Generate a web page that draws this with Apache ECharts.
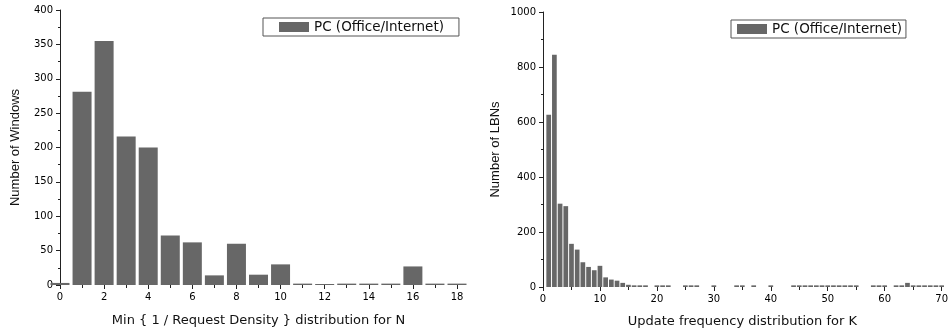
<!DOCTYPE html>
<html>
<head>
<meta charset="utf-8">
<script src="https://cdn.jsdelivr.net/npm/echarts@6/dist/echarts.min.js"></script>
<style>
html,body{margin:0;padding:0;background:#fff;}
#c{width:951px;height:335px;}
</style>
</head>
<body>
<div id="c"></div>
<script>
// ---- data ----
var seriesName = 'PC (Office/Internet)';
var leftX = [0,1,2,3,4,5,6,7,8,9,10,11,12,13,14,15,16,17,18];
var leftCounts = [3,281,355,216,200,72,62,14,60,15,30,2,1.5,2,2,2,27,2,2];
var leftXTicks = [0,2,4,6,8,10,12,14,16,18];
var leftYTicks = [0,50,100,150,200,250,300,350,400];

var rightX = [1,2,3,4,5,6,7,8,9,10,11,12,13,14,15,16,17,18,19,20,
              21,22,23,24,25,26,27,28,29,30,31,32,33,34,35,36,37,38,39,40,
              41,42,43,44,45,46,47,48,49,50,51,52,53,54,55,56,57,58,59,60,
              61,62,63,64,65,66,67,68,69,70];
var rightCounts = [626,845,303,294,157,136,90,73,61,77,35,27,23,15,8,6,6,6,0,6,
                   6,6,0,0,6,6,6,0,0,6,0,0,0,6,6,0,6,0,0,6,
                   0,0,0,6,6,6,6,6,6,6,6,6,6,6,6,0,0,6,6,6,
                   0,6,6,15,6,6,6,6,6,6];
var rightXTicks = [0,10,20,30,40,50,60,70];
var rightYTicks = [0,200,400,600,800,1000];

var leftTitleX = 'Min { 1 / Request Density } distribution for N';
var leftTitleY = 'Number of Windows';
var rightTitleX = 'Update frequency distribution for K';
var rightTitleY = 'Number of LBNs';

function pairs(xs, ys){ return xs.map(function(x,i){ return [x, ys[i]]; }); }

var H = 'DejaVu Sans';
var V = 'Liberation Sans';
var barColor = '#676767';
var axisColor = '#222';

function xAxisOf(gridIndex, ticks, name, gap){
  return {
    type:'value', gridIndex:gridIndex,
    min:ticks[0], max:ticks[ticks.length-1], interval:ticks[1]-ticks[0],
    axisLine:{show:false},
    axisTick:{show:true, inside:false, length:4, lineStyle:{color:axisColor, width:1}},
    minorTick:{show:true, splitNumber:2, length:3, lineStyle:{color:axisColor, width:1}},
    splitLine:{show:false}, minorSplitLine:{show:false},
    axisLabel:{fontFamily:H, fontSize:10, color:'#000', margin:7,
               formatter:function(v){ return String(v); }},
    name:name, nameLocation:'middle', nameGap:gap,
    nameTextStyle:{fontFamily:H, fontSize:13, color:'#111'}
  };
}
function yAxisOf(gridIndex, ticks, name, gap){
  return {
    type:'value', gridIndex:gridIndex,
    min:ticks[0], max:ticks[ticks.length-1], interval:ticks[1]-ticks[0],
    axisLine:{show:true, lineStyle:{color:axisColor, width:1}},
    axisTick:{show:true, inside:false, length:4, lineStyle:{color:axisColor, width:1}},
    minorTick:{show:true, splitNumber:2, length:2, lineStyle:{color:axisColor, width:1}},
    splitLine:{show:false}, minorSplitLine:{show:false},
    axisLabel:{fontFamily:H, fontSize:10, color:'#000', margin:7,
               formatter:function(v){ return String(v); }},
    name:name, nameLocation:'middle', nameGap:gap, nameRotate:90,
    nameTextStyle:{fontFamily:V, fontSize:13, color:'#111'}
  };
}
function legendOf(left, top, padding){
  return {
    data:[seriesName], left:left, top:top, orient:'horizontal',
    icon:'rect', itemWidth:30, itemHeight:10, itemGap:4,
    padding:padding, borderColor:'#555', borderWidth:1, backgroundColor:'#fff',
    textStyle:{fontFamily:H, fontSize:13.5, color:'#111'},
    selectedMode:false
  };
}

var chart = echarts.init(document.getElementById('c'), null, {renderer:'canvas'});
chart.setOption({
  backgroundColor:'#fff',
  animation:false,
  grid:[
    {left:60, top:10, width:397, height:275},
    {left:543, top:12, width:400, height:275}
  ],
  xAxis:[
    xAxisOf(0, leftXTicks, leftTitleX, 29),
    xAxisOf(1, rightXTicks, rightTitleX, 28)
  ],
  yAxis:[
    yAxisOf(0, leftYTicks, leftTitleY, 38),
    yAxisOf(1, rightYTicks, rightTitleY, 41)
  ],
  legend:[
    legendOf(263, 18, [2,15,2,16]),
    legendOf(731, 20, [2,4,2,6])
  ],
  series:[
    {type:'bar', name:seriesName, xAxisIndex:0, yAxisIndex:0,
     data:pairs(leftX, leftCounts), barWidth:19, clip:true,
     itemStyle:{color:barColor}},
    {type:'bar', name:seriesName, xAxisIndex:1, yAxisIndex:1,
     data:pairs(rightX, rightCounts), barWidth:4.7, clip:true,
     itemStyle:{color:barColor}}
  ]
});
</script>
</body>
</html>
